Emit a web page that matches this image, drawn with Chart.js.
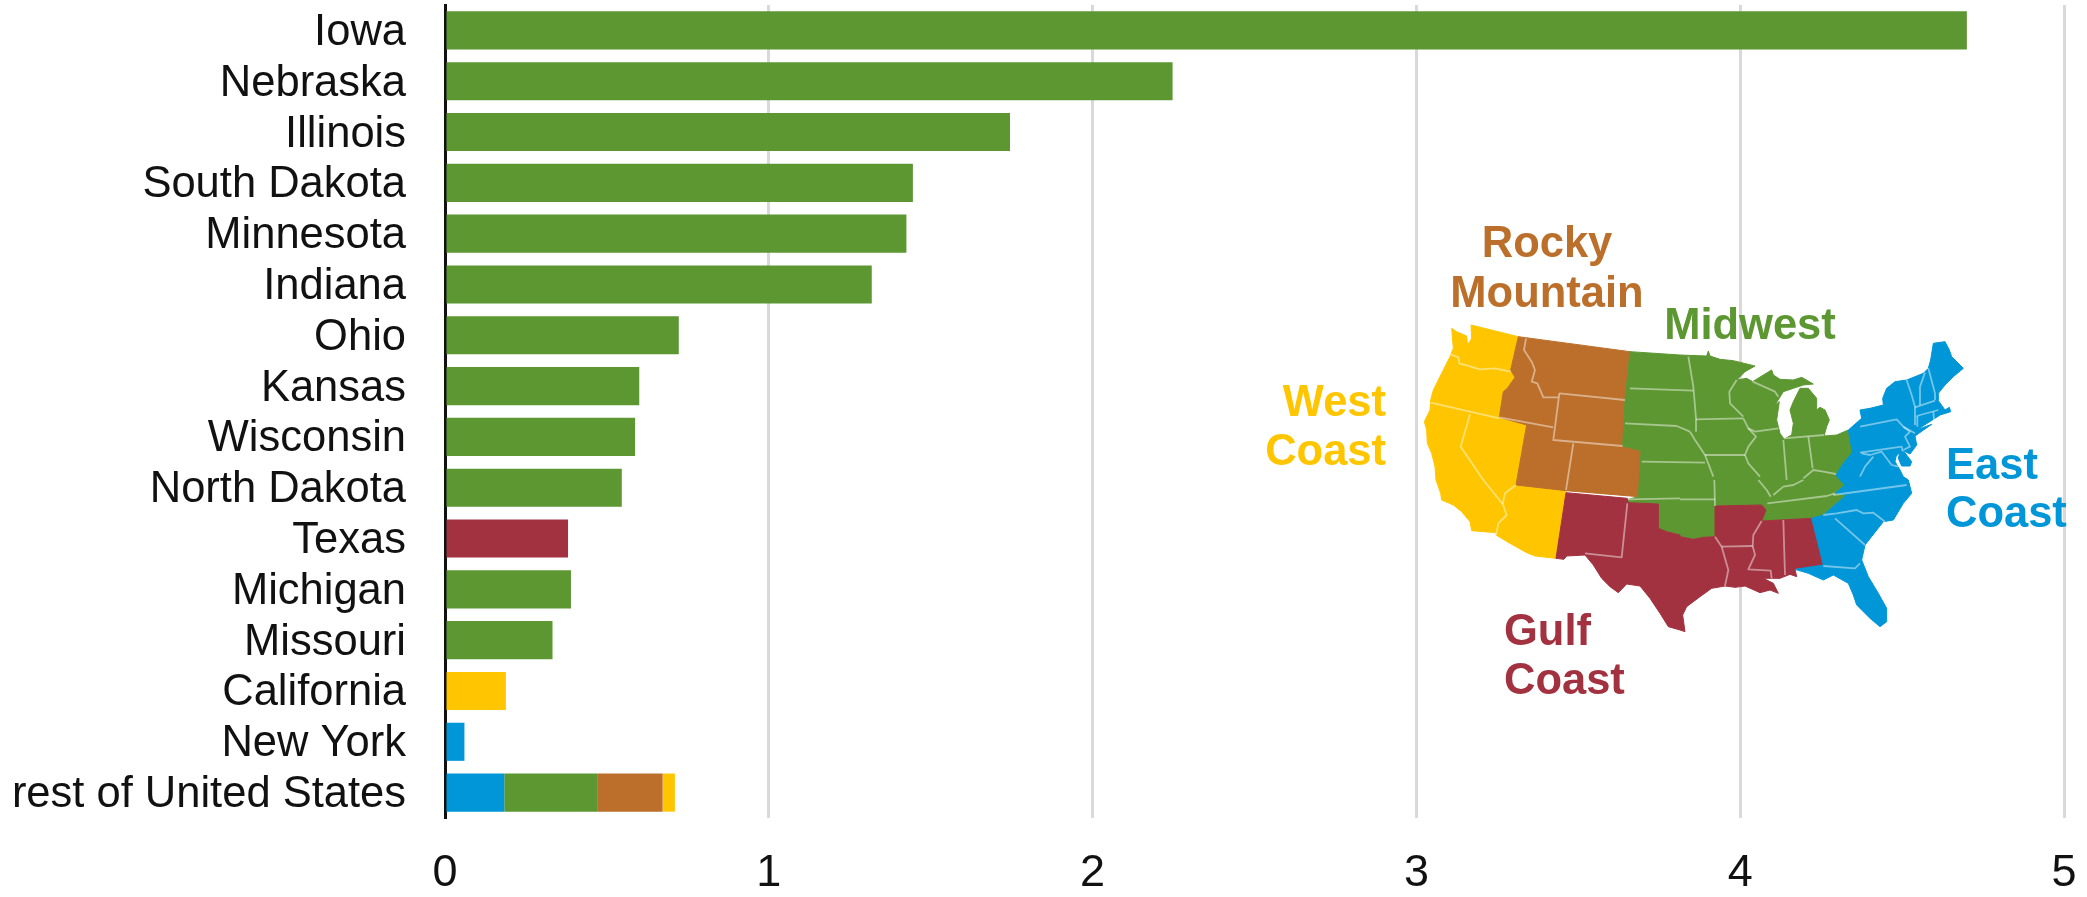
<!DOCTYPE html>
<html>
<head>
<meta charset="utf-8">
<style>
  html, body { margin: 0; padding: 0; background: #fff; }
  canvas { display: block; }
</style>
<script src="https://cdn.jsdelivr.net/npm/chart.js@4/dist/chart.umd.min.js"></script>
</head>
<body>
<canvas id="chart" width="2087" height="897"></canvas>
<script>
const states = ['Iowa', 'Nebraska', 'Illinois', 'South Dakota', 'Minnesota', 'Indiana', 'Ohio', 'Kansas',
  'Wisconsin', 'North Dakota', 'Texas', 'Michigan', 'Missouri', 'California', 'New York', 'rest of United States'];

// values, one array per region
const eastCoast = [0, 0, 0, 0, 0, 0, 0, 0, 0, 0, 0, 0, 0, 0, 0.06, 0.183];
const midwest = [4.70, 2.247, 1.745, 1.445, 1.425, 1.318, 0.722, 0.60, 0.587, 0.546, 0, 0.389, 0.332, 0, 0, 0.289];
const rockyMountain = [0, 0, 0, 0, 0, 0, 0, 0, 0, 0, 0, 0, 0, 0, 0, 0.20];
const gulfCoast = [0, 0, 0, 0, 0, 0, 0, 0, 0, 0, 0.38, 0, 0, 0, 0, 0];
const westCoast = [0, 0, 0, 0, 0, 0, 0, 0, 0, 0, 0, 0, 0, 0.188, 0, 0.038];

const BLUE = '#0096D7', GREEN = '#5D9732', BROWN = '#BB6F2A', RED = '#A33240', YELLOW = '#FFC600';
const FONT = '"Liberation Sans", Arial, sans-serif';

// inset map is a decoration, not data: traced in tiles, each tile shifted into one 3x grid
const tile = (dx, dy) => pts => pts.map((v, i) => v + (i % 2 ? dy : dx));
const A = tile(0, 0), B = tile(780, 0), C = tile(0, 480), D = tile(780, 480), E = tile(1320, 30);

const mapRegions = [
  { color: YELLOW, pts: [
    ...A([95,25, 110,35, 140,48, 143,75, 155,55, 153,15, 295,50, 272,150, 285,172, 262,205, 250,215, 238,292, 320,315, 288,495]),
    ...C([438,32, 408,235, 345,228, 320,218, 270,190, 228,165, 228,158, 155,152, 150,125, 125,95, 100,75, 65,60, 62,40, 48,0]),
    ...A([45,440, 35,400, 22,370, 20,330, 13,305, 30,270, 32,240, 40,210, 65,160, 90,110, 100,85])
  ] },
  { color: BROWN, pts: A([295,50, 630,95, 615,240, 608,378, 663,392, 655,530, 438,512, 288,495, 320,315, 238,292, 250,215, 262,205, 285,172, 272,150]) },
  { color: GREEN, pts: [
    ...A([630,95]),
    ...B([0,105, 80,108, 85,93, 90,108, 120,118, 160,122, 225,138, 195,155, 170,180, 200,175, 218,185, 250,165, 275,150, 280,165, 300,178, 340,180, 365,172, 400,192, 370,195, 340,205, 310,215, 285,255, 298,245, 290,300, 300,340, 312,357, 335,345, 340,310, 330,270, 340,245, 360,205, 385,205, 410,235, 410,270, 400,278, 420,262, 435,270, 448,300, 440,320, 432,348, 470,345, 505,330, 515,385, 515,400, 490,430, 468,465]),
    ...D([480,0, 495,15, 465,40, 500,45, 470,70, 430,105, 395,115, 245,123, 258,90, 245,75, 105,78, 105,170, 70,172, 40,178, 0,170]),
    ...C([780,165, 740,155, 715,145, 715,72, 625,68, 625,58, 655,50]),
    ...A([663,392, 608,378, 615,240])
  ] },
  { color: RED, pts: [
    ...C([438,38, 622,55, 625,68, 715,72, 715,145, 740,155, 780,165]),
    ...D([0,170, 40,178, 70,172, 105,170, 105,78, 245,75, 258,90, 245,123, 395,115, 425,210, 430,255, 345,268, 350,290, 330,283, 300,295, 250,295, 280,310, 295,340, 270,330, 240,338, 195,318, 165,322, 135,318, 95,325, 60,350, 20,380, 8,405, 15,455, 0,450]),
    ...C([780,450, 745,440, 720,400, 690,355, 660,318, 620,312, 595,338, 570,320, 545,295, 520,255, 495,225, 440,228, 432,238, 408,235])
  ] },
  { color: BLUE, pts: [
    ...D([345,268, 430,255, 395,115, 430,105, 470,70, 500,45, 465,40, 495,15, 480,0]),
    ...B([468,465, 490,430, 515,400, 515,385, 505,330, 545,295, 540,270]),
    ...E([0,240, 30,235, 70,225, 68,205, 80,175, 105,155, 140,150, 190,130, 205,115, 212,90, 220,40, 255,35, 268,60, 275,80, 310,115, 280,140, 255,165, 235,190, 235,212, 255,240, 268,232, 272,245, 240,255, 225,265, 170,300, 215,283, 165,318, 170,345, 150,372, 130,362, 155,395, 150,408, 125,408, 115,385, 120,365, 108,380, 105,395, 120,420, 130,440, 145,450]),
    ...D([685,0, 695,40, 670,70, 640,120, 610,125, 555,195, 545,240, 565,290, 595,340, 620,385, 620,425, 600,440, 570,415, 530,375, 520,345, 505,310, 460,285, 430,300, 385,280])
  ] }
];

// state lines inside the regions
const mapBorders = [
  A([92,103, 115,112, 118,130, 180,148, 225,145, 272,155]),
  A([32,248, 238,295]),
  A([150,283, 122,380, 190,480]),
  C([190,0, 248,72]),
  C([288,15, 255,40, 248,72, 260,105, 235,130, 228,165]),
  A([318,55, 312,90, 335,125, 345,150, 335,185, 352,190, 370,232, 415,232]),
  A([418,220, 615,240]),
  A([418,220, 400,360, 608,378]),
  A([238,292, 400,322]),
  A([460,370, 438,510]),
  A([630,205, 820,212]),
  A([615,310, 770,318, 810,335]),
  A([665,425, 855,428]),
  B([25,110, 40,200, 48,295, 48,335]),
  B([30,335, 45,360, 75,405, 100,470]),
  B([48,298, 190,295]),
  B([75,405, 195,405]),
  B([190,295, 205,325, 228,350, 205,380, 195,405, 205,430, 240,470]),
  B([170,180, 148,215, 150,250, 190,290]),
  B([205,325, 225,335, 295,325]),
  B([218,185, 285,215, 295,230]),
  B([310,360, 320,480]),
  B([385,350, 398,445]),
  B([312,355, 432,345]),
  B([370,475, 400,450, 430,455, 468,462]),
  D([235,0, 260,30, 272,50]),
  D([280,45, 310,20, 340,15, 370,0]),
  D([262,70, 305,65, 440,48, 465,40]),
  D([103,0, 105,78]),
  D([0,58, 105,58]),
  C([625,58, 780,55]),
  D([125,200, 218,198]),
  D([105,170, 125,200, 145,270, 135,318]),
  D([245,123, 220,165, 218,198, 225,225, 205,268, 272,272, 275,295]),
  D([310,120, 315,285]),
  C([622,70, 605,232, 495,220]),
  E([140,150, 155,195, 165,230, 165,285]),
  E([195,128, 180,170, 180,225]),
  E([205,115, 225,190, 225,210]),
  E([165,232, 225,212]),
  E([170,258, 235,240]),
  E([220,245, 222,270]),
  E([172,258, 172,290]),
  E([0,290, 110,268, 130,290, 165,310]),
  E([130,290, 150,305, 135,320, 150,350, 130,360]),
  E([0,368, 125,350, 128,365]),
  E([5,370, 30,375, 65,365, 95,405, 115,410]),
  E([0,440, 15,410, 40,380]),
  D([460,45, 680,15]),
  D([430,105, 470,100, 530,90, 550,100, 580,98, 615,125]),
  D([465,115, 555,195]),
  D([430,258, 525,265, 540,250])
];

const mapLabels = [
  { text: 'Rocky', x: 1547, y: 245, align: 'center', color: BROWN },
  { text: 'Mountain', x: 1547, y: 295, align: 'center', color: BROWN },
  { text: 'Midwest', x: 1750, y: 327, align: 'center', color: GREEN },
  { text: 'West', x: 1386, y: 404, align: 'right', color: YELLOW },
  { text: 'Coast', x: 1386, y: 453, align: 'right', color: YELLOW },
  { text: 'East', x: 1946, y: 467, align: 'left', color: BLUE },
  { text: 'Coast', x: 1946, y: 515, align: 'left', color: BLUE },
  { text: 'Gulf', x: 1504, y: 633, align: 'left', color: RED },
  { text: 'Coast', x: 1504, y: 682, align: 'left', color: RED }
];

// inset map and its labels go on top of the bars and grid
const mapInset = {
  id: 'mapInset',
  afterDraw(chart) {
    const ctx = chart.ctx;
    const trace = pts => {
      ctx.beginPath();
      for (let i = 0; i < pts.length; i += 2) {
        const x = 1420 + pts[i] / 3, y = 320 + pts[i + 1] / 3;
        if (i === 0) ctx.moveTo(x, y);
        else ctx.lineTo(x, y);
      }
    };
    ctx.save();
    ctx.lineJoin = 'round';
    mapRegions.forEach(r => {
      trace(r.pts);
      ctx.closePath();
      ctx.fillStyle = r.color;
      ctx.strokeStyle = r.color;
      ctx.lineWidth = 1;
      ctx.fill();
      ctx.stroke();
    });
    ctx.strokeStyle = 'rgba(255,255,255,0.45)';
    ctx.lineWidth = 1.8;
    mapBorders.forEach(b => { trace(b); ctx.stroke(); });
    ctx.font = 'bold 43.5px ' + FONT;
    ctx.textBaseline = 'middle';
    mapLabels.forEach(l => {
      ctx.textAlign = l.align;
      ctx.fillStyle = l.color;
      ctx.fillText(l.text, l.x, l.y);
    });
    ctx.restore();
  }
};

function series(data, color) {
  return { data, backgroundColor: color, borderWidth: 0, barPercentage: 0.75, categoryPercentage: 1 };
}

// tick padding otherwise leaks into the plot margins
function noAutoPadding(axis) {
  axis.paddingTop = axis.paddingBottom = axis.paddingLeft = axis.paddingRight = 0;
}

new Chart(document.getElementById('chart'), {
  type: 'bar',
  data: {
    labels: states,
    datasets: [
      series(eastCoast, BLUE),
      series(midwest, GREEN),
      series(rockyMountain, BROWN),
      series(gulfCoast, RED),
      series(westCoast, YELLOW)
    ]
  },
  options: {
    indexAxis: 'y',
    responsive: false,
    animation: false,
    layout: { padding: { top: 5, right: 23, bottom: 0, left: 0 } },
    plugins: { legend: { display: false }, title: { display: false }, tooltip: { enabled: false } },
    scales: {
      x: {
        stacked: true,
        min: 0,
        max: 5,
        afterFit(axis) { axis.height = 79; noAutoPadding(axis); },
        grid: { color: '#D9D9D9', lineWidth: 3, drawTicks: false },
        border: { display: false },
        ticks: { stepSize: 1, padding: 29, color: '#111', font: { family: FONT, size: 45 } }
      },
      y: {
        stacked: true,
        afterFit(axis) { axis.width = 445; noAutoPadding(axis); },
        grid: { display: false, drawTicks: false },
        border: { display: true, color: '#111', width: 3 },
        ticks: { autoSkip: false, padding: 39, labelOffset: 2.5, color: '#111', font: { family: FONT, size: 43.5 } }
      }
    }
  },
  plugins: [mapInset]
});
</script>
</body>
</html>
